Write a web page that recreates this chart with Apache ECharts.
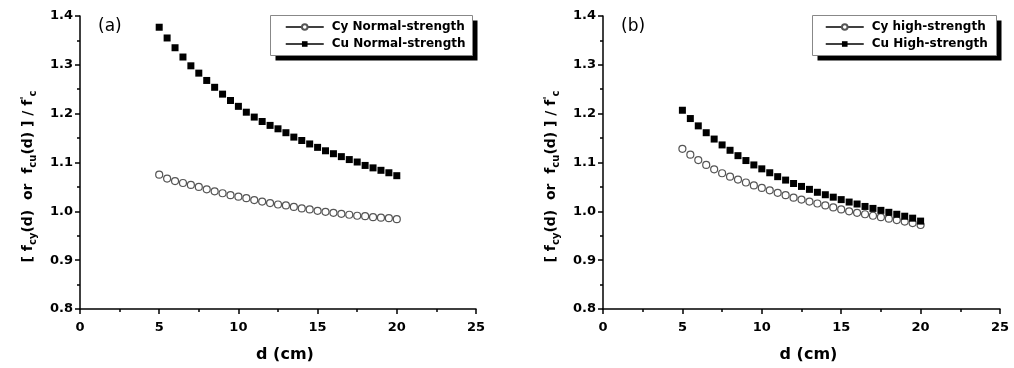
<!DOCTYPE html>
<html><head><meta charset="utf-8">
<script src="https://cdn.jsdelivr.net/npm/echarts@6/dist/echarts.min.js"></script>
<style>html,body{margin:0;padding:0;background:#fff}#c{width:1014px;height:368px}</style>
</head><body><div id="c"></div>
<script>
var dValues = [5,5.5,6,6.5,7,7.5,8,8.5,9,9.5,10,10.5,11,11.5,12,12.5,13,13.5,14,14.5,15,15.5,16,16.5,17,17.5,18,18.5,19,19.5,20];
var cyNormal = [1.075,1.067,1.062,1.058,1.054,1.050,1.045,1.041,1.037,1.033,1.030,1.027,1.023,1.020,1.017,1.014,1.012,1.009,1.006,1.004,1.001,0.999,0.997,0.995,0.993,0.991,0.990,0.988,0.987,0.986,0.984];
var cuNormal = [1.377,1.355,1.335,1.316,1.298,1.283,1.268,1.254,1.240,1.227,1.215,1.203,1.193,1.184,1.176,1.169,1.161,1.152,1.145,1.138,1.131,1.124,1.118,1.112,1.106,1.101,1.094,1.089,1.084,1.079,1.073];
var cyHigh = [1.128,1.116,1.105,1.095,1.086,1.078,1.071,1.065,1.059,1.053,1.048,1.043,1.038,1.033,1.028,1.024,1.020,1.016,1.012,1.008,1.004,1.000,0.997,0.994,0.991,0.988,0.985,0.982,0.979,0.976,0.972];
var cuHigh = [1.207,1.190,1.175,1.161,1.148,1.136,1.125,1.114,1.104,1.095,1.087,1.079,1.071,1.064,1.057,1.051,1.045,1.039,1.034,1.029,1.024,1.019,1.015,1.010,1.006,1.002,0.998,0.994,0.990,0.986,0.980];
var xTicks = {min:0, max:25, interval:5};
var yTicks = {min:0.8, max:1.4, interval:0.1};
var panelLabels = ['(a)','(b)'];
var seriesNames = [['Cy Normal-strength','Cu Normal-strength'],['Cy high-strength','Cu High-strength']];
var xName = 'd (cm)';

function pairs(vals){ return dValues.map(function(d,i){return [d, vals[i]];}); }
var F = '"DejaVu Sans", "Liberation Sans", Arial, sans-serif';
var yNameRich = '[ {t|f}{s|cy}{t|(d)  or  f}{s|cu}{t|(d) ] / f}{p|\'}{s|c}';
var rich = {
  t:{fontFamily:F,fontWeight:'bold',fontSize:14,color:'#000'},
  s:{fontFamily:F,fontWeight:'bold',fontSize:10,color:'#000',padding:[9,0,0,0]},
  p:{fontFamily:F,fontWeight:'bold',fontSize:10,color:'#000',padding:[0,0,6,0]}
};
function xAxis(idx){
  return {gridIndex:idx,type:'value',min:xTicks.min,max:xTicks.max,interval:xTicks.interval,
    name:xName,nameLocation:'middle',nameGap:38,
    nameTextStyle:{fontFamily:F,fontWeight:'bold',fontSize:16,color:'#000',padding:[0,0,0,14]},
    axisLine:{onZero:false,lineStyle:{color:'#000',width:1.5}},
    axisTick:{length:5,lineStyle:{color:'#000',width:1.5}},
    minorTick:{show:true,splitNumber:2,length:3,lineStyle:{color:'#000',width:1.5}},
    splitLine:{show:false},
    axisLabel:{fontFamily:F,fontWeight:'bold',fontSize:13,color:'#000',margin:12}};
}
function yAxis(idx){
  return {gridIndex:idx,type:'value',min:yTicks.min,max:yTicks.max,interval:yTicks.interval,
    name:yNameRich,nameLocation:'middle',nameGap:42,
    nameTextStyle:{fontFamily:F,fontWeight:'bold',fontSize:14,color:'#000',rich:rich,padding:[0,28,0,0]},
    axisLine:{onZero:false,lineStyle:{color:'#000',width:1.5}},
    axisTick:{length:5,lineStyle:{color:'#000',width:1.5}},
    minorTick:{show:true,splitNumber:2,length:3,lineStyle:{color:'#000',width:1.5}},
    splitLine:{show:false},
    axisLabel:{fontFamily:F,fontWeight:'bold',fontSize:13,color:'#000',margin:7,
      formatter:function(v){return v.toFixed(1);}}};
}
function mkSeries(name, vals, idx, filled){
  return {name:name,type:'line',xAxisIndex:idx,yAxisIndex:idx,data:pairs(vals),
    symbol:filled?'rect':'circle',symbolSize:7,showSymbol:true,
    lineStyle:{width:0,opacity:0},
    itemStyle:filled?{color:'#000',borderColor:'#000',borderWidth:0}:{color:'#fff',borderColor:'#555',borderWidth:1.2},
    animation:false,silent:true};
}
function legend(idx, left){
  return {orient:'vertical',left:left,top:20,data:seriesNames[idx],
    padding:0,itemGap:3,itemWidth:38,itemHeight:7,
    lineStyle:{color:'#000',width:1.5,opacity:1},
    textStyle:{fontFamily:F,fontWeight:'bold',fontSize:12,color:'#000',lineHeight:14,padding:[0,0,0,3]}};
}
function box(x,y,w,h){
  return [
    {type:'rect',shape:{x:x+5,y:y+5,width:w,height:h},style:{fill:'#000'},z:1,silent:true},
    {type:'rect',shape:{x:x,y:y,width:w,height:h},style:{fill:'#fff',stroke:'#888',lineWidth:1},z:2,silent:true}
  ];
}
var chart = echarts.init(document.getElementById('c'));
chart.setOption({
  animation:false,
  title:[
    {text:panelLabels[0],left:93,top:13,textStyle:{fontFamily:F,fontWeight:'normal',fontSize:17,color:'#000'}},
    {text:panelLabels[1],left:616,top:13,textStyle:{fontFamily:F,fontWeight:'normal',fontSize:17,color:'#000'}}
  ],
  graphic:box(270.5,15.5,202,40).concat(box(812.5,15.5,184,40)),
  grid:[{left:80,top:16,width:396,height:294},{left:603,top:16,width:397,height:294}],
  xAxis:[xAxis(0),xAxis(1)],
  yAxis:[yAxis(0),yAxis(1)],
  legend:[legend(0,285),legend(1,825)],
  series:[
    mkSeries(seriesNames[0][0],cyNormal,0,false),
    mkSeries(seriesNames[0][1],cuNormal,0,true),
    mkSeries(seriesNames[1][0],cyHigh,1,false),
    mkSeries(seriesNames[1][1],cuHigh,1,true)
  ]
});
</script></body></html>
